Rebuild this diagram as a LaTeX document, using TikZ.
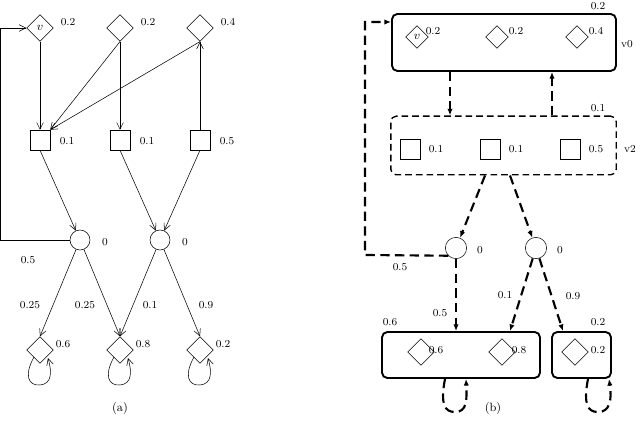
\documentclass[tikz,border=0pt]{standalone}
\usetikzlibrary{shapes.geometric,arrows.meta}
\begin{document}
\begin{tikzpicture}[x=0.75pt,y=-0.75pt,
  dia/.style={draw,diamond,minimum size=20pt,inner sep=0,font=\small},
  sq/.style={draw,minimum size=15pt,inner sep=0},
  cir/.style={draw,circle,minimum size=15pt,inner sep=0},
  lab/.style={font=\footnotesize,inner sep=1},
  ar/.style={-{Straight Barb[length=5pt,width=5pt]},thin},
  dar/.style={-{Latex[length=5pt,width=4pt]},line width=1.6pt,dash pattern=on 7pt off 4pt},
  grp/.style={draw,rounded corners=4,line width=1.4pt},
  dgrp/.style={draw,rounded corners=4,line width=1pt,dash pattern=on 5pt off 3pt}]
\useasboundingbox (0,0) rectangle (640,427);
% (a)
\node[dia] (a1) at (40,28) {$v$};
\node[dia] (a2) at (120,28) {};
\node[dia] (a3) at (200,28) {};
\node[lab] at (68,22) {0.2};\node[lab] at (148,22) {0.2};\node[lab] at (228,22) {0.4};
\node[sq] (s1) at (40,140) {};\node[sq] (s2) at (120,140) {};\node[sq] (s3) at (200,140) {};
\node[lab] at (67,141) {0.1};\node[lab] at (147,141) {0.1};\node[lab] at (227,141) {0.5};
\node[cir] (c1) at (80,240) {};\node[cir] (c2) at (160,240) {};
\node[lab] at (105,242) {0};\node[lab] at (185,242) {0};
\node[dia] (b1) at (40,350) {};\node[dia] (b2) at (120,350) {};\node[dia] (b3) at (200,350) {};
\node[lab] at (63,344) {0.6};\node[lab] at (143,344) {0.8};\node[lab] at (223,344) {0.2};
\draw[ar] (a1) -- (s1.north);
\draw[ar] (a2.south) -- (s1.north east);
\draw[ar] (a2) -- (s2.north);
\draw[ar] (a3.south) -- (s1.north east);
\draw[ar] (s3) -- (a3.south);
\draw[ar] (s1.south) -- (c1);
\draw[ar] (s2.south) -- (c2);
\draw[ar] (s3.south) -- (c2);
\coordinate (l1) at (0,240);\coordinate (l2) at (0,28);
\draw[ar] (c1.west) -- (l1) -- (l2) -- (a1.west);
\node[lab] at (28,260) {0.5};
\draw[ar] (c1) -- (b1.north);\node[lab] at (30,305) {0.25};
\draw[ar] (c1) -- (b2.north);\node[lab] at (85,305) {0.25};
\draw[ar] (c2) -- (b2.north);\node[lab] at (150,305) {0.1};
\draw[ar] (c2) -- (b3.north);\node[lab] at (206,305) {0.9};
\foreach \b in {b1,b2,b3}
  \draw[ar,shift={(\b)}] (-6,7) .. controls (-16,25) and (-12,36) .. (0,35) .. controls (12,34) and (12,22) .. (8,8);
\node[font=\small] at (120,408) {(a)};
% (b)
\node[grp,minimum width=168pt,minimum height=42.75pt] (v0) at (504,42.5) {};
\node[lab] at (598,6) {0.2};\node[lab] at (627,44) {v0};
\node[dia,minimum size=17pt] (d1) at (417,37) {$v$};\node[dia,minimum size=17pt] (d2) at (497,37) {};\node[dia,minimum size=17pt] (d3) at (577,37) {};
\node[lab] at (433,31) {0.2};\node[lab] at (516,31) {0.2};\node[lab] at (596,31) {0.4};
\node[dgrp,minimum width=169pt,minimum height=44pt] (v2) at (503.5,145.5) {};
\node[lab] at (598,108) {0.1};\node[lab] at (630,149) {v2};
\node[sq] (q1) at (410,149) {};\node[sq] (q2) at (490,149) {};\node[sq] (q3) at (570,149) {};
\node[lab] at (436,149) {0.1};\node[lab] at (516,149) {0.1};\node[lab] at (596,149) {0.5};
\draw[dar] (v0.south -| 450,0) -- (v2.north -| 450,0);
\draw[dar] (v2.north -| 552,0) -- (v0.south -| 552,0);
\node[cir,minimum size=16pt] (e1) at (456,248) {};\node[cir,minimum size=16pt] (e2) at (536,248) {};
\node[lab] at (480,250) {0};\node[lab] at (560,250) {0};
\draw[dar] (v2.south -| 485,0) -- (e1);
\draw[dar] (v2.south -| 510,0) -- (e2);
\coordinate (m1) at (365,255);\coordinate (m2) at (365,22);
\draw[dar] (e1.south west) -- (m1) -- (m2) -- (v0.west |- 0,22);
\node[lab] at (400,267) {0.5};
\node[grp,minimum width=118.5pt,minimum height=34.5pt] (g1) at (461,355) {};
\node[grp,minimum width=44.25pt,minimum height=34.5pt] (g2) at (581.5,355) {};
\node[lab] at (390,322) {0.6};\node[lab] at (598,322) {0.2};
\node[dia] (f1) at (421,352) {};\node[dia] (f2) at (502,352) {};\node[dia] (f3) at (575,352) {};
\node[lab] at (436,350) {0.6};\node[lab] at (519,350) {0.8};\node[lab] at (598,350) {0.2};
\draw[dar] (e1.south) -- (g1.north -| 456,0);\node[lab] at (440,313) {0.5};
\draw[dar] (e2) -- (g1.north -| 510,0);\node[lab] at (505,295) {0.1};
\draw[dar] (e2) -- (g2.north -| 563,0);\node[lab] at (573,296) {0.9};
\draw[dar] (g1.south -| 445,0) .. controls (440,405) and (445,412) .. (455,412) .. controls (467,412) and (467,400) .. (g1.south -| 466,0);
\draw[dar] (g2.south -| 588,0) .. controls (583,405) and (588,412) .. (598,412) .. controls (610,412) and (612,400) .. (g2.south -| 609,0);
\node[font=\small] at (493,408) {(b)};
\end{tikzpicture}
\end{document}
